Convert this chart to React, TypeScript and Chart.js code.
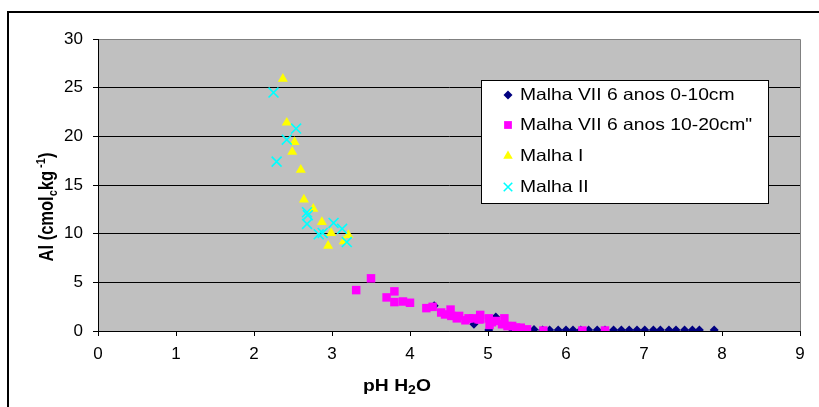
import React, { useEffect, useRef } from 'react';
import { Chart, registerables } from 'chart.js';
import { drawPoint } from 'chart.js/helpers';

Chart.register(...registerables);

const seriesNames = [
  'Malha VII 6 anos 0-10cm',
  'Malha VII 6 anos 10-20cm"',
  'Malha I',
  'Malha II',
];

const navyX = [4.31, 4.82, 5.01, 5.10, 5.32, 5.42, 5.59, 5.70, 5.79, 5.90, 6.00, 6.09, 6.19, 6.29, 6.40, 6.50, 6.61, 6.71, 6.81, 6.91, 7.01, 7.12, 7.21, 7.32, 7.41, 7.52, 7.62, 7.71, 7.90];
const navyY = [2.6, 0.7, 0.1, 1.45, 0.05, 0.05, 0.15, 0.1, 0.1, 0.1, 0.1, 0.1, 0.1, 0.1, 0.1, 0.1, 0.1, 0.1, 0.1, 0.1, 0.1, 0.1, 0.1, 0.1, 0.1, 0.1, 0.1, 0.1, 0.1];

const pinkX = [3.31, 3.50, 3.70, 3.80, 3.80, 3.91, 4.00, 4.21, 4.29, 4.40, 4.45, 4.52, 4.53, 4.60, 4.63, 4.71, 4.75, 4.81, 4.88, 4.90, 4.90, 5.01, 5.02, 5.05, 5.10, 5.18, 5.21, 5.25, 5.31, 5.36, 5.42, 5.50, 5.71, 6.21, 6.50];
const pinkY = [4.2, 5.41, 3.45, 4.07, 2.97, 3.03, 2.9, 2.35, 2.48, 1.9, 1.7, 2.2, 1.55, 1.3, 1.55, 1.1, 1.3, 1.3, 1.2, 1.65, 1.2, 1.3, 0.62, 0.9, 1.03, 0.69, 1.3, 0.5, 0.52, 0.35, 0.34, 0.17, 0.05, 0.05, 0.05];

const yellowX = [2.37, 2.42, 2.49, 2.52, 2.60, 2.64, 2.76, 2.87, 2.95, 2.99, 3.15, 3.21];
const yellowY = [25.9, 21.4, 18.4, 19.4, 16.55, 13.5, 12.55, 11.2, 8.76, 10.07, 9.2, 9.86];

const cyanX = [2.25, 2.29, 2.42, 2.54, 2.68, 2.69, 2.68, 2.83, 2.88, 3.02, 3.13, 3.19];
const cyanY = [24.5, 17.4, 19.65, 20.8, 12.2, 11.9, 11.0, 9.93, 10.07, 11.1, 10.5, 9.14];

const xMin = 0, xMax = 9, xStep = 1;
const yMin = 0, yMax = 30, yStep = 5;

const FONT = "'Liberation Sans', Arial, sans-serif";
const STRETCH = 1.17;

const toPts = (xs: number[], ys: number[]) => xs.map((x, i) => ({ x, y: ys[i] }));

type Seg = { t: string; s: number; dy?: number };

function segWidth(ctx: CanvasRenderingContext2D, segs: Seg[], bold: boolean) {
  let w = 0;
  for (const g of segs) {
    ctx.font = `${bold ? 'bold ' : ''}${g.s}px ${FONT}`;
    w += ctx.measureText(g.t).width;
  }
  return w;
}
function drawSegs(ctx: CanvasRenderingContext2D, segs: Seg[], bold: boolean, x0: number) {
  let x = x0;
  for (const g of segs) {
    ctx.font = `${bold ? 'bold ' : ''}${g.s}px ${FONT}`;
    ctx.fillText(g.t, x, g.dy || 0);
    x += ctx.measureText(g.t).width;
  }
}

const decor = {
  id: 'decor',
  beforeDraw(chart: any) {
    const { ctx, chartArea: a } = chart;
    ctx.save();
    ctx.fillStyle = '#ffffff';
    ctx.fillRect(0, 0, chart.width, chart.height);
    ctx.strokeStyle = '#000';
    ctx.lineWidth = 2;
    ctx.strokeRect(8, 12, 900, 600);
    ctx.fillStyle = '#c0c0c0';
    ctx.fillRect(a.left, a.top, a.right - a.left, a.bottom - a.top);
    ctx.restore();
  },
  afterDraw(chart: any) {
    const { ctx, chartArea: a } = chart;
    ctx.save();
    // top/right plot border
    ctx.strokeStyle = '#808080';
    ctx.lineWidth = 1;
    ctx.beginPath();
    ctx.moveTo(a.left + 1, a.top + 0.5);
    ctx.lineTo(a.right + 0.5, a.top + 0.5);
    ctx.lineTo(a.right + 0.5, a.bottom);
    ctx.stroke();

    ctx.fillStyle = '#000';
    ctx.textBaseline = 'alphabetic';
    // x title
    const xs: Seg[] = [{ t: 'pH H', s: 16.5 }, { t: '2', s: 12, dy: 3 }, { t: 'O', s: 16.5 }];
    const xw = segWidth(ctx, xs, true);
    ctx.save();
    ctx.translate(397, 391);
    ctx.scale(STRETCH, 1);
    drawSegs(ctx, xs, true, -xw / 2);
    ctx.restore();
    // y title
    const ys: Seg[] = [{ t: 'Al (cmol', s: 16.5 }, { t: 'c', s: 11, dy: 3 }, { t: 'kg', s: 16.5 }, { t: ' -1', s: 11, dy: -7 }, { t: ')', s: 16.5 }];
    const yw = segWidth(ctx, ys, true);
    ctx.save();
    ctx.translate(53, 207);
    ctx.scale(STRETCH, 1);
    ctx.rotate(-Math.PI / 2);
    drawSegs(ctx, ys, true, -yw / 2);
    ctx.restore();

    // legend
    const lx = 481, ly = 80, lw = 287, lh = 123;
    ctx.fillStyle = '#fff';
    ctx.fillRect(lx, ly, lw, lh);
    ctx.strokeStyle = '#000';
    ctx.lineWidth = 1;
    ctx.strokeRect(lx + 0.5, ly + 0.5, lw, lh);
    const rows = [95, 125, 156, 187];
    chart.data.datasets.forEach((ds: any, i: number) => {
      const cy = rows[i];
      ctx.save();
      ctx.fillStyle = ds.backgroundColor;
      ctx.strokeStyle = ds.borderColor;
      ctx.lineWidth = ds.borderWidth;
      drawPoint(ctx, { pointStyle: ds.pointStyle, radius: ds.legendRadius, rotation: 0, borderWidth: ds.borderWidth }, 508, cy);
      ctx.restore();
      ctx.save();
      ctx.fillStyle = '#000';
      ctx.textBaseline = 'middle';
      ctx.translate(520, cy + 0.5);
      ctx.scale(STRETCH, 1);
      ctx.font = `16.5px ${FONT}`;
      ctx.fillText(ds.label, 0, 0);
      ctx.restore();
    });
    ctx.restore();
  },
};

export default function App() {
  const ref = useRef<HTMLCanvasElement>(null);
  useEffect(() => {
    if (!ref.current) return;
    const chart = new Chart(ref.current, {
      type: 'scatter',
      data: {
        datasets: [
          {
            label: seriesNames[0], data: toPts(navyX, navyY), pointStyle: 'rectRot', radius: 4.5, legendRadius: 4.5,
            backgroundColor: '#000080', borderColor: '#000080', borderWidth: 0, order: 4,
          } as any,
          {
            label: seriesNames[1], data: toPts(pinkX, pinkY), pointStyle: 'rect', radius: 6, legendRadius: 5.5,
            backgroundColor: '#ff00ff', borderColor: '#ff00ff', borderWidth: 0, order: 3,
          } as any,
          {
            label: seriesNames[2], data: toPts(yellowX, yellowY), pointStyle: 'triangle', radius: 5.8, legendRadius: 5.5,
            backgroundColor: '#ffff00', borderColor: '#ffff00', borderWidth: 0, order: 2,
          } as any,
          {
            label: seriesNames[3], data: toPts(cyanX, cyanY), pointStyle: 'crossRot', radius: 7, legendRadius: 6,
            backgroundColor: '#00ffff', borderColor: '#00ffff', borderWidth: 1.6, order: 1,
          } as any,
        ],
      },
      options: {
        responsive: false,
        animation: false,
        events: [],
        layout: { padding: { top: 39, right: 19, left: 0, bottom: 0 } },
        plugins: { legend: { display: false }, tooltip: { enabled: false }, title: { display: false } },
        scales: {
          x: {
            type: 'linear', min: xMin, max: xMax,
            ticks: { stepSize: xStep, color: '#000', font: { family: FONT, size: 17 }, padding: 8 },
            grid: { display: true, drawOnChartArea: false, drawTicks: true, tickLength: 5, color: '#000', lineWidth: 1 },
            border: { display: true, color: '#000', width: 1 },
            afterFit: (s: any) => { s.height = 76; },
          },
          y: {
            type: 'linear', min: yMin, max: yMax,
            ticks: { stepSize: yStep, color: '#000', font: { family: FONT, size: 17 }, padding: 10 },
            grid: { display: true, drawOnChartArea: true, drawTicks: true, tickLength: 5, color: '#000', lineWidth: 1 },
            border: { display: true, color: '#000', width: 1 },
            afterFit: (s: any) => { s.width = 98; },
          },
        },
      },
      plugins: [decor],
    });
    return () => chart.destroy();
  }, []);
  return (
    <div style={{ position: 'fixed', left: 0, top: 0, width: 819, height: 407 }}>
      <canvas ref={ref} width={819} height={407} style={{ display: 'block' }} />
    </div>
  );
}
